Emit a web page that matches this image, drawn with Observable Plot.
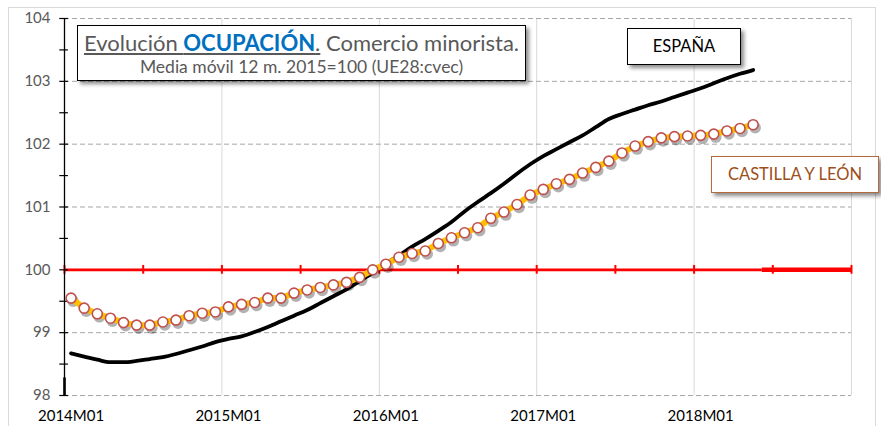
<!DOCTYPE html>
<html><head><meta charset="utf-8">
<script src="https://cdn.jsdelivr.net/npm/d3@7"></script>
<script src="https://cdn.jsdelivr.net/npm/@observablehq/plot@0.6"></script>
<style>
body{margin:0;background:#fff;font-family:Lato,"Open Sans",sans-serif;}
#wrap{position:relative;width:881px;height:426px;overflow:hidden;background:#fff;}
#wrap svg{position:absolute;left:0;top:0;}
#frame{position:absolute;left:8px;top:7px;width:868px;height:440px;border:1px solid #d9d9d9;box-sizing:border-box;}
.box{position:absolute;background:#fff;box-sizing:border-box;box-shadow:3px 3px 4px rgba(0,0,0,0.45);text-align:center;white-space:nowrap;}
#title{left:77px;top:25px;width:449px;height:56px;border:1px solid #000;color:#595959;}
#title .l1{font-size:22px;line-height:26px;margin-top:4px;}
#title .u{text-decoration:underline;}
#title .b{font-weight:bold;color:#0070c0;}
#title .l2{font-size:17.5px;line-height:20px;margin-top:1px;}
#esp{left:627px;top:28px;width:114px;height:37px;border:1px solid #000;font-size:16.5px;line-height:35px;color:#000;}
#cyl{left:711px;top:156px;width:168px;height:37px;border:1.5px solid #b26b3d;font-size:16.5px;line-height:34px;color:#9c4f1b;}
</style></head>
<body>
<div id="wrap"></div>
<script>
const espana = [98.67,98.62,98.57,98.53,98.53,98.55,98.58,98.61,98.66,98.72,98.78,98.85,
  98.90,98.94,99.01,99.09,99.18,99.27,99.36,99.47,99.58,99.69,99.82,99.95,
  100.10,100.23,100.37,100.49,100.62,100.76,100.93,101.08,101.22,101.37,101.53,101.68,
  101.81,101.92,102.03,102.14,102.27,102.40,102.48,102.55,102.62,102.68,102.75,102.82,
  102.89,102.97,103.05,103.12,103.18];
const castilla = [99.55,99.39,99.30,99.23,99.16,99.12,99.12,99.17,99.20,99.27,99.31,99.33,
  99.41,99.45,99.48,99.55,99.55,99.63,99.68,99.72,99.76,99.80,99.88,100.00,
  100.09,100.20,100.26,100.30,100.42,100.51,100.59,100.67,100.82,100.92,101.04,101.19,
  101.28,101.37,101.44,101.54,101.63,101.73,101.86,101.97,102.04,102.10,102.12,102.13,
  102.14,102.16,102.21,102.25,102.31];
const xTickLabels = ["2014M01","2015M01","2016M01","2017M01","2018M01"];
const xTickMonths = [0,12,24,36,48];
const yearBounds = [12,24,36,48,60];
const redTicks = [0,6,12,18,24,30,36,42,48,54,60];
const yTicks = [98,99,100,101,102,103,104];
const yMinor = [98,98.5,99,99.5,100,100.5,101,101.5,102,102.5,103,103.5,104];
const dashedY = [98,99,101,102,103,104];

const labelOf = new Map(xTickMonths.map((m,i)=>[m+0.5, xTickLabels[i]]));
const X = (d, i) => i + 0.5;
const Y = d => d;

const chart = Plot.plot({
  width: 881, height: 426,
  marginLeft: 64, marginRight: 30, marginTop: 18, marginBottom: 31,
  style: {background: "transparent", fontFamily: "Lato, sans-serif"},
  x: {domain: [0, 60]},
  y: {domain: [98, 104]},
  marks: [
    Plot.ruleX(yearBounds, {y1: 98, y2: 104, stroke: "#d9d9d9", strokeWidth: 1}),
    Plot.ruleY(dashedY, {x1: 0, x2: 60, stroke: "#a6a6a6", strokeWidth: 1, strokeDasharray: "5,3"}),
    Plot.ruleY([100], {x1: 0, x2: 53.2, stroke: "#ff0000", strokeWidth: 2.6}),
    Plot.ruleY([100], {x1: 53.2, x2: 60, stroke: "#ff0000", strokeWidth: 4.5}),
    Plot.ruleX(redTicks, {y1: 99.93, y2: 100.07, stroke: "#ff0000", strokeWidth: 2}),
    Plot.ruleX([0], {y1: 98, y2: 104, stroke: "#000", strokeWidth: 1.3}),
    Plot.ruleX([0], {y1: 98, y2: 98.28, stroke: "#000", strokeWidth: 2.6}),
    Plot.ruleY(yMinor, {x1: -0.36, x2: 0.3, stroke: "#000", strokeWidth: 1.2}),
    Plot.axisY(yTicks, {tickSize: 0, tickPadding: 14, fontSize: 15, fill: "#595959", tickFormat: d => String(d)}),
    Plot.axisX(xTickMonths.map(m => m + 0.5), {tickSize: 0, tickPadding: 15, fontSize: 15, fill: "#000",
      tickFormat: d => labelOf.get(d)}),
    // shadows
    Plot.line(espana, {x: X, y: Y, stroke: "#000", strokeOpacity: 0.35, strokeWidth: 4.5, dx: 2, dy: 3,
      curve: "monotone-x", ariaLabel: "shadow"}),
    Plot.line(castilla, {x: X, y: Y, stroke: "#000", strokeOpacity: 0.35, strokeWidth: 7, dx: 2, dy: 3,
      ariaLabel: "shadow"}),
    Plot.dot(castilla, {x: X, y: Y, r: 5.8, fill: "#000", fillOpacity: 0.3, dx: 2, dy: 3, ariaLabel: "shadow"}),
    // series
    Plot.line(espana, {x: X, y: Y, stroke: "#000", strokeWidth: 3.8, curve: "monotone-x"}),
    Plot.line(castilla, {x: X, y: Y, stroke: "#ffc000", strokeWidth: 6}),
    Plot.dot(castilla, {x: X, y: Y, r: 5, fill: "#fff", stroke: "#c0504d", strokeWidth: 1.6})
  ]
});

const svg = d3.select(chart);
const defs = svg.insert("defs", ":first-child");
defs.append("filter").attr("id", "blurSh").attr("x", "-10%").attr("y", "-10%").attr("width", "120%").attr("height", "120%")
  .append("feGaussianBlur").attr("stdDeviation", 1.6);
svg.selectAll('g[aria-label="shadow"]').attr("filter", "url(#blurSh)");

const wrap = document.getElementById("wrap");
wrap.appendChild(chart);
wrap.insertAdjacentHTML("beforeend", `
<div id="frame"></div>
<div class="box" id="title"><div class="l1"><span class="u">Evolución <span class="b">OCUPACIÓN</span>.</span> Comercio minorista.</div><div class="l2">Media móvil 12 m. 2015=100 (UE28:cvec)</div></div>
<div class="box" id="esp">ESPAÑA</div>
<div class="box" id="cyl">CASTILLA Y LEÓN</div>
`);
</script>
</body></html>
